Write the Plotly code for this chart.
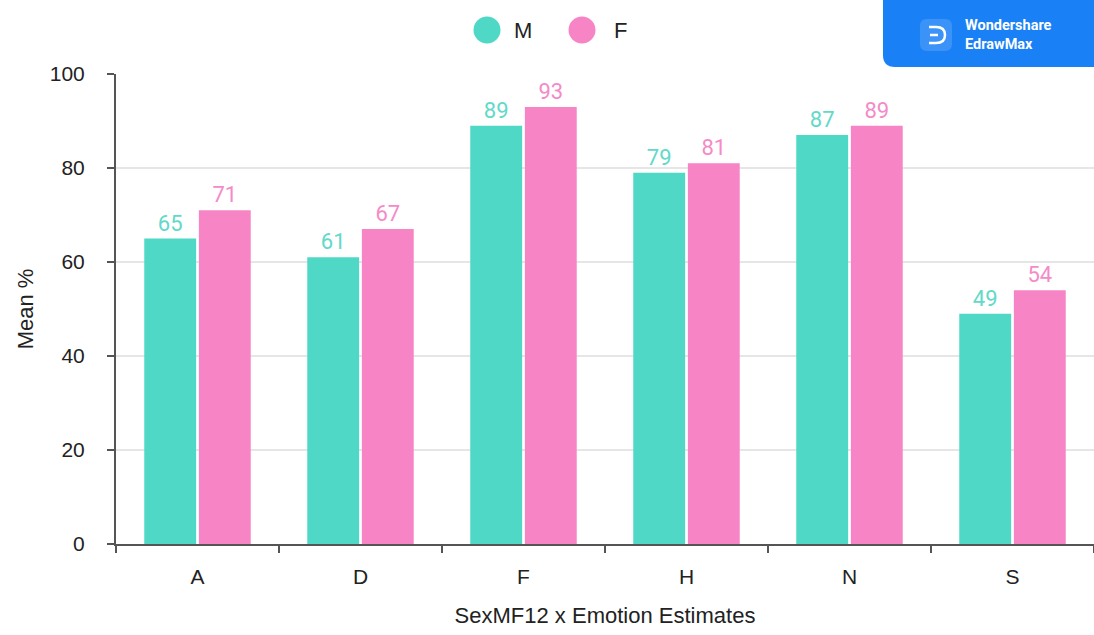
import plotly.graph_objects as go

# Emotion categories and mean accuracy (%) by sex
categories = ["A", "D", "F", "H", "N", "S"]
series_names = ["M", "F"]
male_values = [65, 61, 89, 79, 87, 49]
female_values = [71, 67, 93, 81, 89, 54]

bar_colors = ["#4fd8c6", "#f785c6"]
label_colors = ["#62d9c9", "#f48bc8"]

W, H = 1094, 635
L, R, T, B = 116, 0, 74, 91
PW, PH = W - L - R, H - T - B


def px(x):
    return (x - L) / PW


def py(y):
    return (H - B - y) / PH


fig = go.Figure()
for name, vals, col, lcol in zip(series_names, [male_values, female_values], bar_colors, label_colors):
    fig.add_trace(go.Bar(
        x=categories, y=vals, name=name,
        marker=dict(color=col, line=dict(width=0)),
        text=vals, texttemplate="%{text}", textposition="outside",
        textfont=dict(family="Roboto", size=22, color=lcol),
        cliponaxis=False, showlegend=False,
    ))

shapes = []
annotations = []

# Legend: circle markers with labels
legend_pos = [(487, 523), (582, 620)]
for (cx, tx), name, col in zip(legend_pos, series_names, bar_colors):
    r = 13.5
    shapes.append(dict(type="circle", xref="paper", yref="paper",
                       x0=px(cx - r), x1=px(cx + r), y0=py(30 + r), y1=py(30 - r),
                       fillcolor=col, line=dict(width=0), layer="above"))
    annotations.append(dict(xref="paper", yref="paper", x=px(tx), y=py(30),
                            text=name, showarrow=False, xanchor="center", yanchor="middle",
                            font=dict(family="Liberation Sans, Arial", size=22, color="#222")))

# Branding badge in the top-right corner
bx0, bx1, by0, by1, rad = 883, 1094, 0, 67, 12
badge_path = (f"M {px(bx0)},{py(by0)} L {px(bx1)},{py(by0)} L {px(bx1)},{py(by1)} "
              f"L {px(bx0 + rad)},{py(by1)} Q {px(bx0)},{py(by1)} {px(bx0)},{py(by1 - rad)} Z")
shapes.append(dict(type="path", xref="paper", yref="paper", path=badge_path,
                   fillcolor="#1a80f6", line=dict(width=0), layer="above"))
ix0, ix1, iy0, iy1, ir = 920, 952, 19, 51, 7
icon_path = (f"M {px(ix0 + ir)},{py(iy0)} L {px(ix1 - ir)},{py(iy0)} Q {px(ix1)},{py(iy0)} {px(ix1)},{py(iy0 + ir)} "
             f"L {px(ix1)},{py(iy1 - ir)} Q {px(ix1)},{py(iy1)} {px(ix1 - ir)},{py(iy1)} "
             f"L {px(ix0 + ir)},{py(iy1)} Q {px(ix0)},{py(iy1)} {px(ix0)},{py(iy1 - ir)} "
             f"L {px(ix0)},{py(iy0 + ir)} Q {px(ix0)},{py(iy0)} {px(ix0 + ir)},{py(iy0)} Z")
shapes.append(dict(type="path", xref="paper", yref="paper", path=icon_path,
                   fillcolor="#3b93f8", line=dict(width=0), layer="above"))
glyph = (f"M {px(929)},{py(27)} L {px(936)},{py(27)} Q {px(945)},{py(27)} {px(945)},{py(35)} "
         f"Q {px(945)},{py(43)} {px(936)},{py(43)} L {px(929)},{py(43)} M {px(930)},{py(35)} L {px(938)},{py(35)}")
shapes.append(dict(type="path", xref="paper", yref="paper", path=glyph,
                   line=dict(color="white", width=2.5), layer="above"))
annotations.append(dict(xref="paper", yref="paper", x=px(963), y=py(35),
                        text="<b>Wondershare<br>EdrawMax</b>", showarrow=False,
                        xanchor="left", yanchor="middle", align="left",
                        font=dict(family="Roboto", size=14.5, color="white")))

fig.update_layout(
    width=W, height=H,
    margin=dict(l=L, r=R, t=T, b=B),
    paper_bgcolor="white", plot_bgcolor="white",
    barmode="group", bargap=0.33, bargroupgap=0.05,
    font=dict(family="Liberation Sans, Arial", color="#333"),
    shapes=shapes, annotations=annotations,
    xaxis=dict(
        showline=True, linecolor="#555", linewidth=2,
        ticks="outside", ticklen=7, tickwidth=2, tickcolor="#555",
        tickson="boundaries", showgrid=False,
        tickfont=dict(size=21, color="#222"), ticklabelstandoff=13,
        title=dict(text="SexMF12 x Emotion Estimates", font=dict(size=22, color="#222"), standoff=20),
    ),
    yaxis=dict(
        range=[0, 100], dtick=20,
        showline=True, linecolor="#555", linewidth=2,
        ticks="outside", ticklen=7, tickwidth=2, tickcolor="#555",
        showgrid=True, gridcolor="#e6e6e6", gridwidth=1.5, zeroline=False,
        tickfont=dict(size=21, color="#222"), ticklabelstandoff=18,
        title=dict(text="Mean %", font=dict(size=22, color="#222"), standoff=10),
    ),
)

fig.write_html("out.html")
